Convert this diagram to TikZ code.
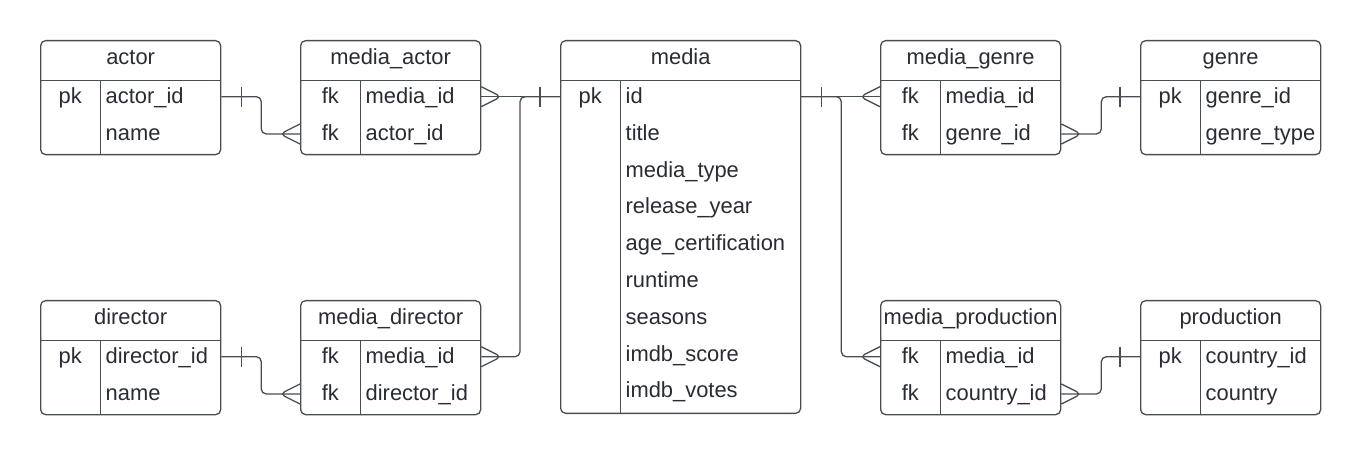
\documentclass[tikz,border=0pt]{standalone}
\usepackage{fontspec}
\setmainfont{Liberation Sans}
\usetikzlibrary{calc}
\definecolor{ln}{RGB}{72,78,86}
\definecolor{tx}{RGB}{40,44,52}
\tikzset{
  tbl/.style={draw=ln, line width=1.3pt, rounded corners=5pt, inner sep=0pt, anchor=north west},
  sep/.style={draw=ln, line width=1.3pt},
  conn/.style={draw=ln, line width=1.3pt, rounded corners=5pt},
  txt/.style={text=tx, font=\fontsize{21.9}{24}\selectfont, inner sep=0pt},
  hdr/.style={txt, anchor=base},
  fld/.style={txt, anchor=base west},
  kcol/.style={txt, anchor=base}
}
% #1 name, #2 left, #3 top, #4 width, #5 height, #6 header
\newcommand\erbox[6]{%
  \node[tbl, minimum width=#4pt, minimum height=#5pt] (#1) at (#2,#3) {};
  \draw[sep] ($(#1.north west)+(0,40.7)$) -- ($(#1.north east)+(0,40.7)$);
  \draw[sep] ($(#1.north west)+(60.7,40.7)$) -- ($(#1.south west)+(60.7,0)$);
  \node[hdr] (#1-h) at ($(#1.north)+(0,25)$) {#6};
}
% #1 table, #2 row index (0-based), #3 key, #4 field
\newcommand\errow[4]{%
  \node[kcol] (#1-k#2) at ($(#1.north west)+(30.3,63.5+36.8*#2)$) {#3};
  \node[fld] (#1-f#2) at ($(#1.north west)+(65.5,63.5+36.8*#2)$) {#4};
}
\newcommand\erone[2]{\draw[conn] ($(#1)+(#2,-10)$) -- ($(#1)+(#2,10)$);}
\newcommand\ermany[2]{\draw[conn] ($(#1)+(0,-10)$) -- ($(#1)+(#2,0)$) -- ($(#1)+(0,10)$);}
\begin{document}
\begin{tikzpicture}[x=1pt, y=-1pt]
\useasboundingbox[fill=white] (0,0) rectangle (1360,454);

% top row
\erbox{actor}{40}{40}{180}{114}{actor}
\errow{actor}{0}{pk}{actor\_id}
\errow{actor}{1}{}{name}

\erbox{ma}{300}{40}{180}{114}{media\_actor}
\errow{ma}{0}{fk}{media\_id}
\errow{ma}{1}{fk}{actor\_id}

\erbox{media}{560}{40}{240}{372.7}{media}
\errow{media}{0}{pk}{id}
\errow{media}{1}{}{title}
\errow{media}{2}{}{media\_type}
\errow{media}{3}{}{release\_year}
\errow{media}{4}{}{age\_certification}
\errow{media}{5}{}{runtime}
\errow{media}{6}{}{seasons}
\errow{media}{7}{}{imdb\_score}
\errow{media}{8}{}{imdb\_votes}

\erbox{mg}{880}{40}{180}{114}{media\_genre}
\errow{mg}{0}{fk}{media\_id}
\errow{mg}{1}{fk}{genre\_id}

\erbox{genre}{1140}{40}{180}{114}{genre}
\errow{genre}{0}{pk}{genre\_id}
\errow{genre}{1}{}{genre\_type}

% bottom row
\erbox{director}{40}{300}{180}{114}{director}
\errow{director}{0}{pk}{director\_id}
\errow{director}{1}{}{name}

\erbox{md}{300}{300}{180}{114}{media\_director}
\errow{md}{0}{fk}{media\_id}
\errow{md}{1}{fk}{director\_id}

\erbox{mp}{880}{300}{180}{114}{media\_production}
\errow{mp}{0}{fk}{media\_id}
\errow{mp}{1}{fk}{country\_id}

\erbox{prod}{1140}{300}{180}{114}{production}
\errow{prod}{0}{pk}{country\_id}
\errow{prod}{1}{}{country}

% connection points
\coordinate (actorR0) at ($(actor.north east)+(0,56.7)$);
\coordinate (maL1) at ($(ma.north west)+(0,94)$);
\coordinate (maR0) at ($(ma.north east)+(0,56.7)$);
\coordinate (mediaL0) at ($(media.north west)+(0,56.7)$);
\coordinate (mediaR0) at ($(media.north east)+(0,56.7)$);
\coordinate (mgL0) at ($(mg.north west)+(0,56.7)$);
\coordinate (mgR1) at ($(mg.north east)+(0,94)$);
\coordinate (genreL0) at ($(genre.north west)+(0,56.7)$);
\coordinate (directorR0) at ($(director.north east)+(0,56.7)$);
\coordinate (mdL1) at ($(md.north west)+(0,94)$);
\coordinate (mdR0) at ($(md.north east)+(0,56.7)$);
\coordinate (mpL0) at ($(mp.north west)+(0,56.7)$);
\coordinate (mpR1) at ($(mp.north east)+(0,94)$);
\coordinate (prodL0) at ($(prod.north west)+(0,56.7)$);

% connectors
\draw[conn] (actorR0) -- ++(40,0) |- (maL1);
\erone{actorR0}{20}
\ermany{maL1}{-20}

\draw[conn] (mediaL0) -- (maR0);
\erone{mediaL0}{-20}
\ermany{maR0}{20}

\draw[conn] (mediaL0) -- ++(-40,0) |- (mdR0);
\ermany{mdR0}{20}

\draw[conn] (directorR0) -- ++(40,0) |- (mdL1);
\erone{directorR0}{20}
\ermany{mdL1}{-20}

\draw[conn] (mediaR0) -- (mgL0);
\erone{mediaR0}{20}
\ermany{mgL0}{-20}

\draw[conn] (mediaR0) -- ++(40,0) |- (mpL0);
\ermany{mpL0}{-20}

\draw[conn] (mgR1) -- ++(40,0) |- (genreL0);
\ermany{mgR1}{20}
\erone{genreL0}{-20}

\draw[conn] (mpR1) -- ++(40,0) |- (prodL0);
\ermany{mpR1}{20}
\erone{prodL0}{-20}
\end{tikzpicture}
\end{document}
